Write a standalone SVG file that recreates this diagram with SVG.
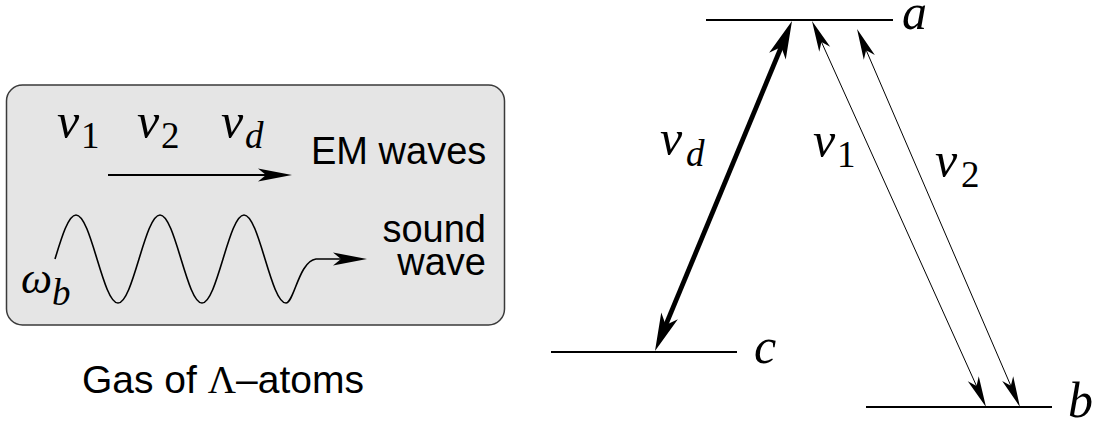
<svg xmlns="http://www.w3.org/2000/svg" width="1099" height="425" viewBox="0 0 1099 425">
<style>
.sans{font-family:"Liberation Sans",Arial,sans-serif;fill:#000}
.math{font-family:"Liberation Serif","Times New Roman",serif;font-style:italic;fill:#000}
.rm{font-family:"Liberation Serif","Times New Roman",serif;font-style:normal;fill:#000}
.lvl{stroke:#000;stroke-width:2;fill:none}
.thin{stroke:#000;stroke-width:1;fill:none}
.thick{stroke:#000;stroke-width:4.8;fill:none}
</style>
<defs>
<marker id="ahS" markerUnits="userSpaceOnUse" markerWidth="40" markerHeight="20" refX="-12" refY="0" orient="auto-start-reverse" overflow="visible">
<path d="M0,0 L-34,-6.5 L-26,0 L-34,6.5 Z" fill="#000"/>
</marker>
<marker id="ahThin" markerUnits="userSpaceOnUse" markerWidth="40" markerHeight="20" refX="-10" refY="0" orient="auto-start-reverse" overflow="visible">
<path d="M0,0 L-31,-6 L-23,0 L-31,6 Z" fill="#000"/>
</marker>
<marker id="ahThick" markerUnits="userSpaceOnUse" markerWidth="50" markerHeight="30" refX="-12" refY="0" orient="auto-start-reverse" overflow="visible">
<path d="M0,0 L-38,-9 L-28,0 L-38,9 Z" fill="#000"/>
</marker>
</defs>
<rect width="1099" height="425" fill="#fff"/>

<g id="gas-box">
<rect x="6.5" y="85" width="498" height="240" rx="16" ry="16" fill="#e5e5e5" stroke="#3a3a3a" stroke-width="1.5"/>
<text class="math" x="57" y="138" font-size="50">ν</text><text class="rm" x="81" y="148" font-size="37">1</text>
<text class="math" x="137" y="138" font-size="50">ν</text><text class="rm" x="161" y="148" font-size="37">2</text>
<text class="math" x="221" y="138" font-size="50">ν</text><text class="math" x="245" y="148" font-size="37">d</text>
<text class="sans" x="311" y="164" font-size="38">EM waves</text>
<path d="M108,175 L280,175" stroke="#000" stroke-width="2" fill="none" marker-end="url(#ahS)"/>
<path d="M55,259 c6.85,-22.5 13.43,-44 21,-44 c7.57,0 14.15,21.5 21,44 c6.85,22.5 13.43,44 21,44 c7.57,0 14.15,-21.5 21,-44 c6.85,-22.5 13.43,-44 21,-44 c7.57,0 14.15,21.5 21,44 c6.85,22.5 13.43,44 21,44 c7.57,0 14.15,-21.5 21,-44 c6.85,-22.5 13.43,-44 21,-44 c7.57,0 14.15,21.5 21,44 c6.85,22.5 13.43,44 21,44 C294,303 299,261 316,259 L355,259" stroke="#000" stroke-width="1.6" fill="none" marker-end="url(#ahS)"/>
<text class="sans" x="486" y="242" font-size="38" text-anchor="end">sound</text>
<text class="sans" x="486" y="275" font-size="38" text-anchor="end">wave</text>
<text class="math" x="21" y="293" font-size="44">ω</text><text class="math" x="52" y="305" font-size="37">b</text>
</g>

<g id="caption">
<text class="sans" x="82" y="393" font-size="39">Gas of <tspan class="rm">Λ</tspan>–atoms</text>
</g>

<g id="level-a">
<line class="lvl" x1="706" y1="20" x2="893" y2="20"/>
<text class="math" x="902" y="29" font-size="50">a</text>
</g>
<g id="level-c">
<line class="lvl" x1="551" y1="352" x2="737" y2="352"/>
<text class="math" x="754" y="363" font-size="50">c</text>
</g>
<g id="level-b">
<line class="lvl" x1="866" y1="407" x2="1052" y2="407"/>
<text class="math" x="1068" y="417" font-size="50">b</text>
</g>

<g id="connectors">
<line class="thick" x1="659.6" y1="339.9" x2="787.4" y2="32.1" marker-start="url(#ahThick)" marker-end="url(#ahThick)"/>
<line class="thin" x1="816.1" y1="30.1" x2="981.9" y2="397.9" marker-start="url(#ahThin)" marker-end="url(#ahThin)"/>
<line class="thin" x1="861" y1="38.2" x2="1016" y2="397.8" marker-start="url(#ahThin)" marker-end="url(#ahThin)"/>
</g>

<g id="labels">
<text class="math" x="660" y="155" font-size="50">ν</text><text class="math" x="686" y="166" font-size="37">d</text>
<text class="math" x="813" y="157" font-size="50">ν</text><text class="rm" x="837" y="167" font-size="37">1</text>
<text class="math" x="935" y="177" font-size="50">ν</text><text class="rm" x="961" y="187" font-size="37">2</text>
</g>
</svg>
